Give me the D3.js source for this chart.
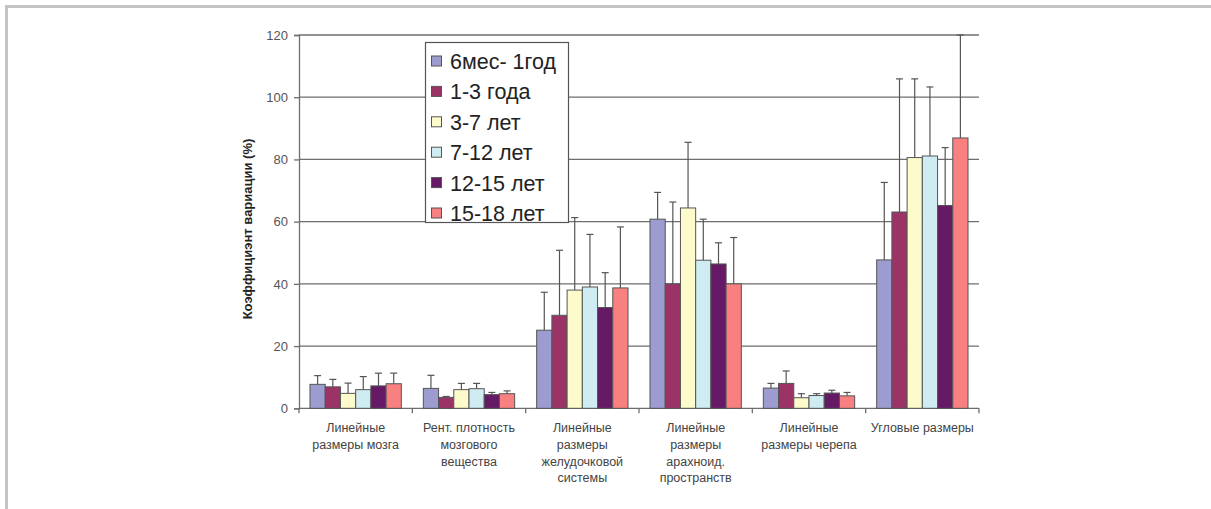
<!DOCTYPE html>
<html>
<head>
<meta charset="utf-8">
<script src="https://cdn.jsdelivr.net/npm/d3@7/dist/d3.min.js"></script>
<style>
  html, body { margin: 0; padding: 0; background: #fff; }
  svg { display: block; }
  text { font-family: "Liberation Sans", Arial, sans-serif; }
</style>
</head>
<body>
<svg id="chart" width="1211" height="509"></svg>
<script>
// Categories (multi-line labels)
const categories = [
  ["Линейные", "размеры мозга"],
  ["Рент. плотность", "мозгового", "вещества"],
  ["Линейные", "размеры", "желудочковой", "системы"],
  ["Линейные", "размеры", "арахноид.", "пространств"],
  ["Линейные", "размеры черепа"],
  ["Угловые размеры"]
];
const series = ["6мес- 1год", "1-3 года", "3-7 лет", "7-12 лет", "12-15 лет", "15-18 лет"];
const colors = ["#9c9cd0", "#9b3366", "#fdfbcc", "#cfecf2", "#661a66", "#f88080"];

// Mean coefficient of variation per series (rows) and category (columns)
const s6m1y   = [7.7, 6.4, 25.1, 60.8, 6.5, 47.7];
const s1to3   = [6.9, 3.5, 29.9, 40.0, 8.0, 63.1];
const s3to7   = [4.8, 6.0, 38.0, 64.4, 3.4, 80.6];
const s7to12  = [6.0, 6.3, 39.0, 47.6, 4.1, 81.1];
const s12to15 = [7.2, 4.4, 32.4, 46.4, 4.9, 65.2];
const s15to18 = [7.9, 4.7, 38.7, 40.0, 4.0, 86.9];

// Upper end of each error bar
const e6m1y   = [10.5, 10.6, 37.3, 69.4, 8.0, 72.6];
const e1to3   = [9.3, 3.8, 50.8, 66.3, 12.0, 105.9];
const e3to7   = [8.1, 8.0, 61.3, 85.5, 4.7, 105.9];
const e7to12  = [10.2, 8.0, 55.9, 60.8, 4.7, 103.3];
const e12to15 = [11.3, 5.1, 43.6, 53.2, 5.8, 83.8];
const e15to18 = [11.3, 5.6, 58.3, 54.9, 5.1, 120];

const yTicks = [0, 20, 40, 60, 80, 100, 120];

const values = [s6m1y, s1to3, s3to7, s7to12, s12to15, s15to18];
const errors = [e6m1y, e1to3, e3to7, e7to12, e12to15, e15to18];

const svg = d3.select("#chart");

// Outer frame (top and left edges)
svg.append("rect").attr("x", 5).attr("y", 5).attr("width", 1206).attr("height", 3).attr("fill", "#c4c4c4");
svg.append("rect").attr("x", 5).attr("y", 5).attr("width", 3).attr("height", 504).attr("fill", "#c4c4c4");

const plotL = 299, plotR = 979, plotT = 35, plotB = 408.3;

const catIdx = d3.range(categories.length);
const x0 = d3.scaleBand().domain(catIdx).range([plotL, plotR]).padding(0);
const bw = x0.bandwidth();
const x1 = d3.scaleBand().domain(d3.range(series.length)).range([11, bw - 11]).padding(0);
const y = d3.scaleLinear().domain([0, 120]).range([plotB, plotT]);

// Horizontal grid lines
svg.append("g").selectAll("line").data(yTicks.filter(t => t > 0)).join("line")
  .attr("x1", plotL).attr("x2", plotR)
  .attr("y1", d => y(d)).attr("y2", d => y(d))
  .attr("stroke", "#6e6e6e").attr("stroke-width", 1.3);

// Y axis
const yAxis = d3.axisLeft(y).tickValues(yTicks).tickSize(5).tickPadding(6);
const gy = svg.append("g").attr("transform", `translate(${plotL},0)`).call(yAxis);
gy.select(".domain").attr("stroke", "#6e6e6e").attr("stroke-width", 1.3);
gy.selectAll(".tick line").attr("stroke", "#6e6e6e").attr("stroke-width", 1.3);
gy.selectAll(".tick text").attr("fill", "#555").attr("font-size", 13)
  .attr("font-family", "Liberation Sans, Arial, sans-serif");

// X axis baseline with category boundary ticks
svg.append("line").attr("x1", plotL).attr("x2", plotR).attr("y1", plotB).attr("y2", plotB)
  .attr("stroke", "#6e6e6e").attr("stroke-width", 1.3);
svg.append("g").selectAll("line").data(d3.range(categories.length + 1)).join("line")
  .attr("x1", i => plotL + i * bw).attr("x2", i => plotL + i * bw)
  .attr("y1", plotB).attr("y2", plotB + 5)
  .attr("stroke", "#6e6e6e").attr("stroke-width", 1.3);

// Bars and error bars
const groups = svg.append("g").selectAll("g").data(catIdx).join("g")
  .attr("transform", c => `translate(${x0(c)},0)`);

groups.each(function(c) {
  const g = d3.select(this);
  series.forEach((s, si) => {
    const v = values[si][c], e = errors[si][c];
    const bx = x1(si), w = x1.bandwidth();
    const cx = bx + w / 2;
    g.append("line").attr("x1", cx).attr("x2", cx).attr("y1", y(v)).attr("y2", y(e))
      .attr("stroke", "#555").attr("stroke-width", 1.2);
    g.append("line").attr("x1", cx - 3.5).attr("x2", cx + 3.5).attr("y1", y(e)).attr("y2", y(e))
      .attr("stroke", "#555").attr("stroke-width", 1.2);
    g.append("rect").attr("x", bx).attr("y", y(v)).attr("width", w).attr("height", y(0) - y(v))
      .attr("fill", colors[si]).attr("stroke", "#555").attr("stroke-width", 1);
  });
});

// Category labels
const lab = svg.append("g").selectAll("text").data(catIdx).join("text")
  .attr("text-anchor", "middle").attr("fill", "#444").attr("font-size", 12.5)
  .attr("font-family", "Liberation Sans Narrow, Liberation Sans, Arial, sans-serif");
lab.each(function(c) {
  const t = d3.select(this);
  categories[c].forEach((line, li) => {
    t.append("tspan").attr("x", x0(c) + bw / 2).attr("y", 432 + li * 16.8).text(line);
  });
});

// Y axis title
svg.append("text")
  .attr("transform", "translate(252,229) rotate(-90)")
  .attr("text-anchor", "middle").attr("font-size", 13).attr("font-weight", "bold").attr("fill", "#222")
  .text("Коэффициэнт вариации (%)");

// Legend
const lg = svg.append("g");
lg.append("rect").attr("x", 425.5).attr("y", 42.5).attr("width", 143).attr("height", 180)
  .attr("fill", "#fff").attr("stroke", "#555").attr("stroke-width", 1.2);
series.forEach((s, i) => {
  const cy = 61.5 + i * 30.4;
  lg.append("rect").attr("x", 431.5).attr("y", cy - 5.5).attr("width", 10).attr("height", 10)
    .attr("fill", colors[i]).attr("stroke", "#555").attr("stroke-width", 1);
  lg.append("text").attr("x", 450).attr("y", cy + 7.5).attr("font-size", 21.5).attr("fill", "#222").text(s);
});
</script>
</body>
</html>
